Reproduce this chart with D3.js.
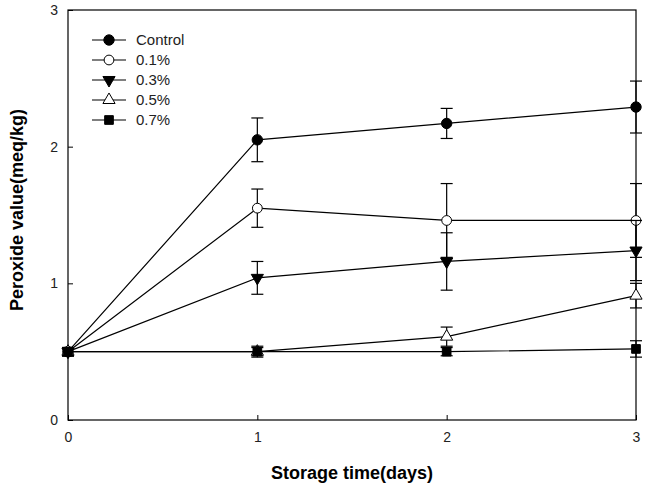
<!DOCTYPE html>
<html>
<head>
<meta charset="utf-8">
<script src="https://cdn.jsdelivr.net/npm/d3@7"></script>
<style>
  body { margin: 0; background: white; }
  text { font-family: "Liberation Sans", Arial, sans-serif; }
</style>
</head>
<body>
<div id="viz"></div>
<script>
// storage days
var days = [0, 1, 2, 3];

// peroxide values (meq/kg) and their error (+/-)
var control    = [0.50, 2.05, 2.17, 2.29];
var controlErr = [0.03, 0.16, 0.11, 0.19];
var p01        = [0.50, 1.55, 1.46, 1.46];
var p01Err     = [0.03, 0.14, 0.27, 0.27];
var p03        = [0.50, 1.04, 1.16, 1.24];
var p03Err     = [0.03, 0.12, 0.21, 0.22];
var p05        = [0.50, 0.50, 0.61, 0.91];
var p05Err     = [0.03, 0.03, 0.07, 0.09];
var p07        = [0.50, 0.50, 0.50, 0.52];
var p07Err     = [0.03, 0.04, 0.03, 0.06];

var seriesNames = ['Control', '0.1%', '0.3%', '0.5%', '0.7%'];
var xTicks = [0, 1, 2, 3];
var yTicks = [0, 1, 2, 3];

var width = 657,
	height = 484,
	mLeft = 68, mRight = 636,
	mTop = 10, mBottom = 420;

var series = [
	{name: seriesNames[0], vals: control, err: controlErr, shape: 'circle', fill: 'black'},
	{name: seriesNames[1], vals: p01,     err: p01Err,     shape: 'circle', fill: 'white'},
	{name: seriesNames[2], vals: p03,     err: p03Err,     shape: 'down',   fill: 'black'},
	{name: seriesNames[3], vals: p05,     err: p05Err,     shape: 'up',     fill: 'white'},
	{name: seriesNames[4], vals: p07,     err: p07Err,     shape: 'square', fill: 'black'}
];

var xScale = d3.scaleLinear().domain([0, 3]).range([mLeft, mRight]);
var yScale = d3.scaleLinear().domain([0, 3]).range([mBottom, mTop]);

var svg = d3.select('#viz').append('svg')
	.attr('width', width)
	.attr('height', height);

// marker path for a series (down triangle = rotated up triangle)
function marker(s){
	if (s.shape === 'down' || s.shape === 'up') return d3.symbol().type(d3.symbolTriangle).size(64)();
	if (s.shape === 'square') return d3.symbol().type(d3.symbolSquare).size(75)();
	return d3.symbol().type(d3.symbolCircle).size(s.fill === 'white' ? 75 : 85)();
}
function rot(s){ return s.shape === 'down' ? ' rotate(180)' : ''; }

// axes (ticks inside the frame)
svg.append('g')
	.attr('transform', 'translate(0,' + mBottom + ')')
	.call(d3.axisBottom(xScale).tickValues(xTicks).tickFormat(d3.format('d'))
		.tickSizeInner(-5).tickSizeOuter(0).tickPadding(12))
	.call(function(g){ g.select('.domain').remove(); });

svg.append('g')
	.attr('transform', 'translate(' + mLeft + ',0)')
	.call(d3.axisLeft(yScale).tickValues(yTicks).tickFormat(d3.format('d'))
		.tickSizeInner(-5).tickSizeOuter(0).tickPadding(10))
	.call(function(g){ g.select('.domain').remove(); });

svg.selectAll('.tick text')
	.style('font-size', '14px')
	.style('font-family', '"Liberation Sans", Arial, sans-serif')
	.attr('fill', '#222');
svg.selectAll('.tick line').attr('stroke', 'black');

// frame
svg.append('rect')
	.attr('x', mLeft).attr('y', mTop)
	.attr('width', mRight - mLeft).attr('height', mBottom - mTop)
	.attr('fill', 'none')
	.attr('stroke', 'black')
	.attr('stroke-width', 1.2);

var line = d3.line()
	.x(function(d, i){ return xScale(days[i]); })
	.y(function(d){ return yScale(d); });

series.forEach(function(s){
	var g = svg.append('g');

	g.append('path')
		.attr('d', line(s.vals))
		.attr('fill', 'none')
		.attr('stroke', 'black')
		.attr('stroke-width', 1.2);

	// error bars
	var eb = g.selectAll('.eb').data(s.vals).enter().append('g');
	eb.append('line')
		.attr('x1', function(d, i){ return xScale(days[i]); })
		.attr('x2', function(d, i){ return xScale(days[i]); })
		.attr('y1', function(d, i){ return yScale(d + s.err[i]); })
		.attr('y2', function(d, i){ return yScale(d - s.err[i]); })
		.attr('stroke', 'black').attr('stroke-width', 1.2);
	[1, -1].forEach(function(sign){
		eb.append('line')
			.attr('x1', function(d, i){ return xScale(days[i]) - 6; })
			.attr('x2', function(d, i){ return xScale(days[i]) + 6; })
			.attr('y1', function(d, i){ return yScale(d + sign * s.err[i]); })
			.attr('y2', function(d, i){ return yScale(d + sign * s.err[i]); })
			.attr('stroke', 'black').attr('stroke-width', 1.2);
	});

	g.selectAll('.pt').data(s.vals).enter().append('path')
		.attr('d', marker(s))
		.attr('transform', function(d, i){
			return 'translate(' + xScale(days[i]) + ',' + yScale(d) + ')' + rot(s);
		})
		.attr('fill', s.fill)
		.attr('stroke', 'black')
		.attr('stroke-width', 1);
});

// legend
var legend = svg.append('g').selectAll('g').data(series).enter().append('g')
	.attr('transform', function(d, i){ return 'translate(92,' + (40 + i * 20) + ')'; });

legend.append('line')
	.attr('x1', 0).attr('x2', 34)
	.attr('stroke', 'black').attr('stroke-width', 1.2);
legend.append('path')
	.attr('d', function(d){ return marker(d); })
	.attr('transform', function(d){ return 'translate(17,0)' + rot(d); })
	.attr('fill', function(d){ return d.fill; })
	.attr('stroke', 'black');
legend.append('text')
	.attr('x', 44).attr('y', 5)
	.style('font-size', '15px')
	.attr('fill', '#222')
	.text(function(d){ return d.name; });

// axis titles
svg.append('text')
	.attr('x', (mLeft + mRight) / 2).attr('y', 479)
	.attr('text-anchor', 'middle')
	.style('font-size', '18px').style('font-weight', 'bold')
	.text('Storage time(days)');

svg.append('text')
	.attr('transform', 'translate(23,' + ((mTop + mBottom) / 2 - 5) + ') rotate(-90)')
	.attr('text-anchor', 'middle')
	.style('font-size', '18px').style('font-weight', 'bold')
	.text('Peroxide value(meq/kg)');
</script>
</body>
</html>
